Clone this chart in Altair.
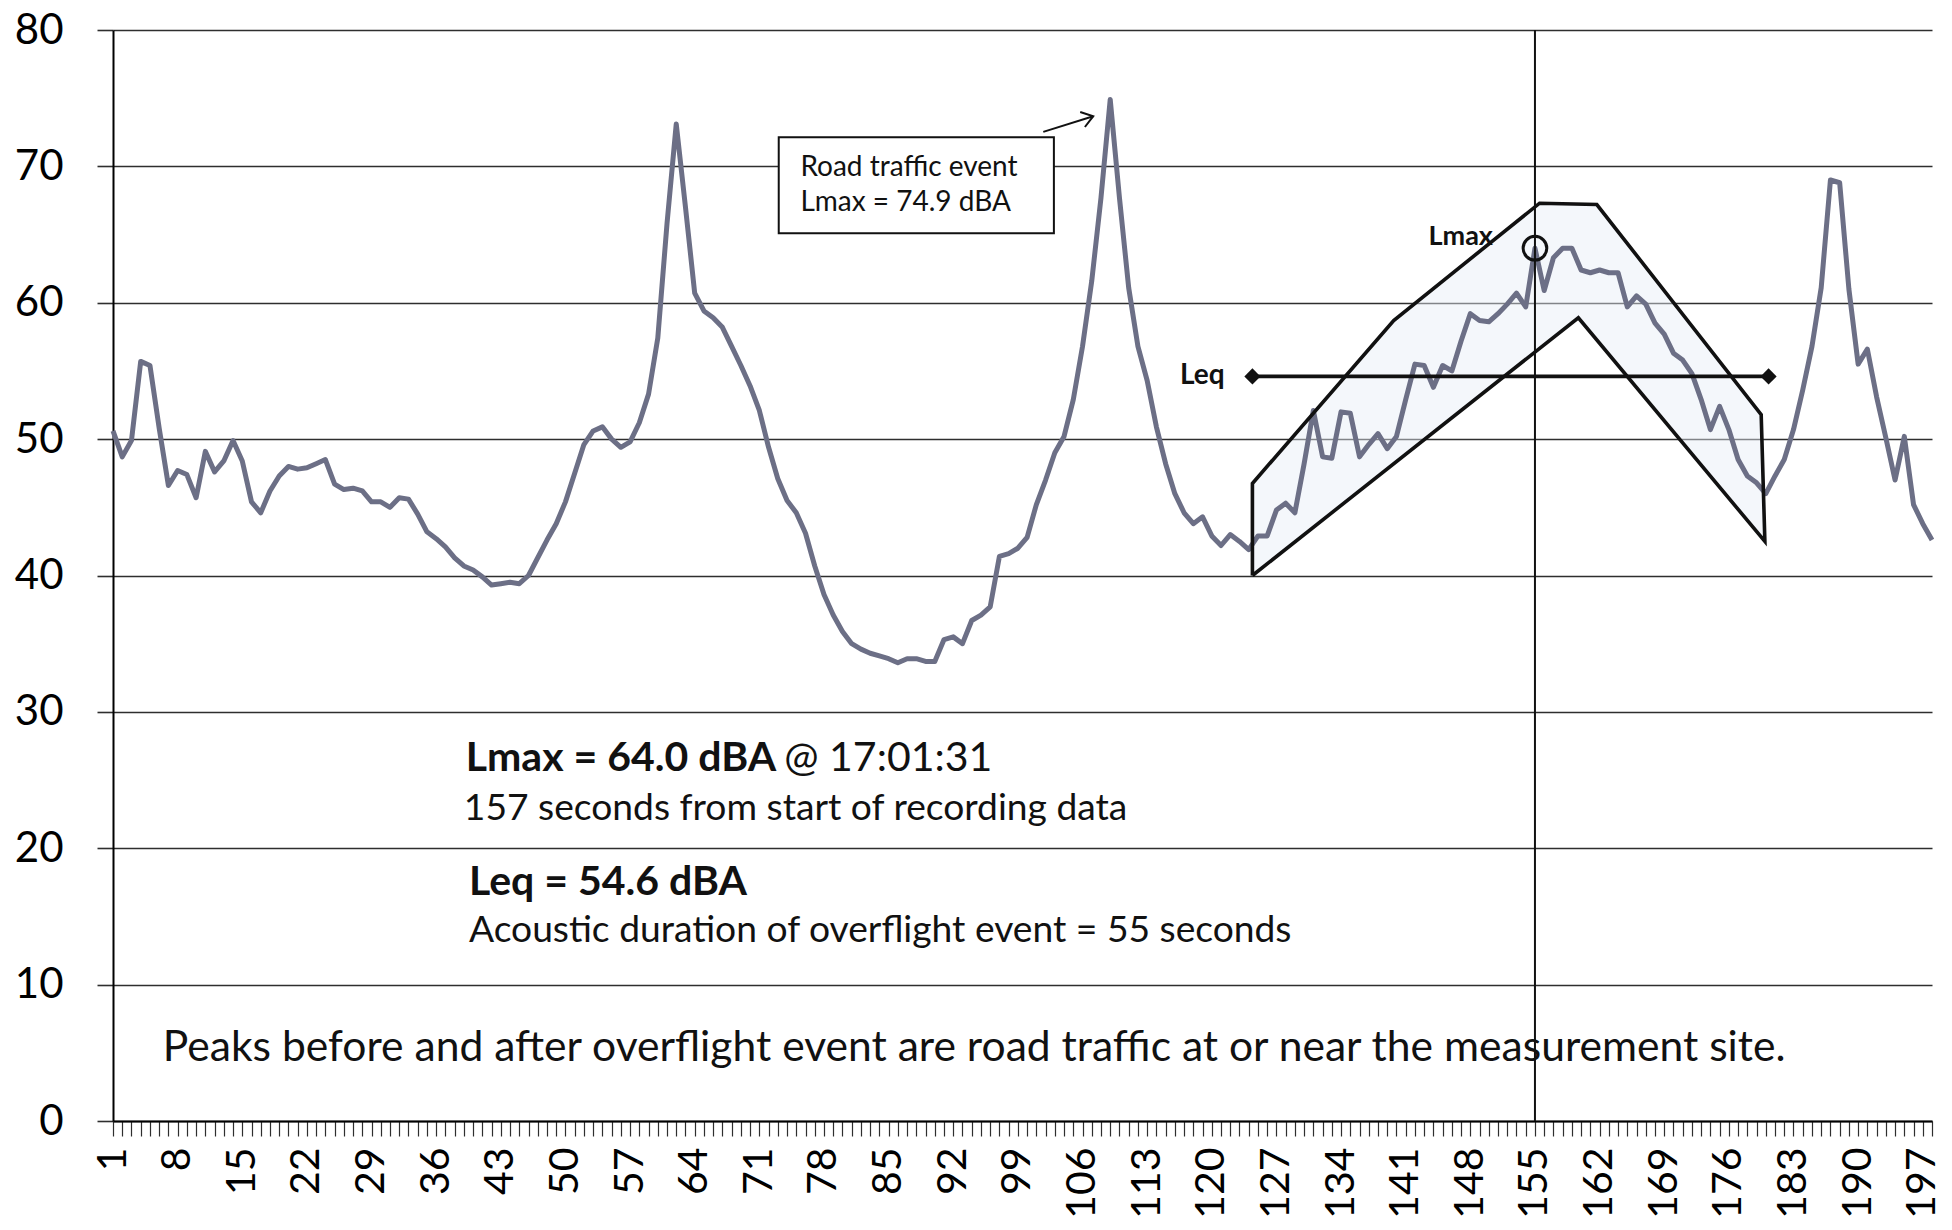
import altair as alt
import pandas as pd
import numpy as np

# ---------------- data ----------------
seconds = list(range(1, 199))
levels = [
    50.6, 48.7, 49.9, 55.7, 55.4, 50.8, 46.6, 47.7, 47.4, 45.7,
    49.1, 47.6, 48.4, 49.9, 48.4, 45.4, 44.6, 46.2, 47.3, 48.0,
    47.8, 47.9, 48.2, 48.5, 46.7, 46.3, 46.4, 46.2, 45.4, 45.4,
    45.0, 45.7, 45.6, 44.5, 43.2, 42.7, 42.1, 41.3, 40.7, 40.4,
    39.9, 39.3, 39.4, 39.5, 39.4, 40.0, 41.3, 42.6, 43.8, 45.4,
    47.5, 49.6, 50.6, 50.9, 50.0, 49.4, 49.8, 51.2, 53.3, 57.4,
    65.8, 73.1, 67.0, 60.7, 59.4, 58.9, 58.2, 56.8, 55.4, 53.9,
    52.1, 49.4, 47.1, 45.5, 44.6, 43.1, 40.7, 38.6, 37.1, 35.9,
    35.0, 34.6, 34.3, 34.1, 33.9, 33.6, 33.9, 33.9, 33.7, 33.7,
    35.3, 35.5, 35.0, 36.7, 37.1, 37.7, 41.4, 41.6, 42.0, 42.8,
    45.2, 47.0, 49.0, 50.2, 52.9, 56.8, 61.6, 67.7, 74.9, 67.7,
    61.1, 56.8, 54.3, 50.9, 48.2, 46.0, 44.6, 43.8, 44.3, 42.9,
    42.2, 43.0, 42.5, 41.9, 42.9, 42.9, 44.8, 45.3, 44.6, 48.2,
    52.1, 48.7, 48.6, 52.0, 51.9, 48.7, 49.6, 50.4, 49.3, 50.2,
    52.9, 55.5, 55.4, 53.8, 55.4, 55.0, 57.2, 59.2, 58.7, 58.6,
    59.2, 59.9, 60.7, 59.7, 64.0, 60.9, 63.3, 64.0, 64.0, 62.4,
    62.2, 62.4, 62.2, 62.2, 59.7, 60.5, 59.9, 58.5, 57.7, 56.3,
    55.8, 54.8, 52.9, 50.7, 52.4, 50.7, 48.5, 47.3, 46.8, 46.0,
    47.3, 48.5, 50.7, 53.6, 56.8, 61.1, 69.0, 68.8, 61.0, 55.5,
    56.6, 53.1, 50.1, 47.0, 50.2, 45.2, 43.8, 42.6,
]
label_step = 7
y_ticks = list(range(0, 81, 10))

lmax_time = 155
lmax_level = 64.0
leq_level = 54.6
leq_start, leq_end = 124.4, 180.3

# overflight envelope (outline vertices, in seconds / dBA)
env_x = [124.4, 124.4, 139.7, 155.5, 161.7, 179.5, 179.9, 159.7, 124.4]
env_y = [40.0, 46.75, 58.7, 67.3, 67.2, 51.8, 42.5, 58.9, 40.0]
env_top_x = [124.4, 139.7, 155.5, 161.7, 179.5, 179.9]
env_top_y = [46.75, 58.7, 67.3, 67.2, 51.8, 42.5]
env_bot_x = [124.4, 159.7, 179.9]
env_bot_y = [40.0, 58.9, 42.5]

# road traffic callout box + arrow
box_x = [73.1]; box_x2 = [102.9]; box_y = [72.14]; box_y2 = [65.1]
box_lines = ["Road traffic event", "Lmax = 74.9 dBA"]
box_line_x = [75.45, 75.45]
box_line_y = [69.3, 66.7]
arrow_x = [101.75, 107.16]
arrow_y = [72.53, 73.68]

bold_texts = ["Lmax = 64.0 dBA", "Leq = 54.6 dBA"]
bold_x = [39.2, 39.55]
bold_y = [25.66, 16.57]
at_text = ["@ 17:01:31"]; at_x = [73.7]; at_y = [25.66]
sub_texts = ["157 seconds from start of recording data",
             "Acoustic duration of overflight event = 55 seconds"]
sub_x = [39.0, 39.55]
sub_y = [22.1, 13.09]
note_text = ["Peaks before and after overflight event are road traffic at or near the measurement site."]
note_x = [6.4]; note_y = [4.4]

FONT = "Lato"
LINE_COLOR = "#6c6f86"
GRID = "#2e2e2e"

XS = alt.Scale(domain=[1, 198], nice=False, zero=False)
YS = alt.Scale(domain=[0, 80], nice=False, zero=False)

x_axis = alt.Axis(
    values=seconds, title=None, grid=False,
    labelExpr=f"(datum.value - 1) % {label_step} == 0 ? datum.label : ''",
    labelAngle=270, labelAlign="right", labelBaseline="middle",
    labelFont=FONT, labelFontSize=41, labelColor="black", labelPadding=11,
    labelOverlap=False, labelFlush=False,
    tickSize=15, tickColor=GRID, tickWidth=1.2,
    domainColor="black", domainWidth=2,
)
y_axis = alt.Axis(
    values=y_ticks, title=None, grid=True, gridColor=GRID, gridWidth=1.6,
    gridOpacity=1, labelFont=FONT, labelFontSize=42, labelColor="black",
    labelPadding=34, tickSize=16, tickColor=GRID, tickWidth=1.6,
    domainColor="black", domainWidth=2,
)


def X(f):
    return alt.X(f"{f}:Q", scale=XS, axis=x_axis)


def Y(f):
    return alt.Y(f"{f}:Q", scale=YS, axis=y_axis)


df = pd.DataFrame({"t": seconds, "L": levels})

xs_fill = sorted(set(env_top_x + env_bot_x))
fill_df = pd.DataFrame({
    "x": xs_fill,
    "top": np.interp(xs_fill, env_top_x, env_top_y),
    "bot": np.interp(xs_fill, env_bot_x, env_bot_y),
})
env_df = pd.DataFrame({"x": env_x, "y": env_y, "o": list(range(len(env_x)))})

main = alt.Chart(df).mark_line(
    color=LINE_COLOR, strokeWidth=5, strokeJoin="round"
).encode(x=X("t"), y=Y("L"))

env_fill = alt.Chart(fill_df).mark_area(color="#e6eef7", opacity=0.45).encode(
    x=X("x"), y=Y("top"), y2="bot"
)
env_line = alt.Chart(env_df).mark_line(
    color="#111111", strokeWidth=3.6, strokeJoin="miter"
).encode(x=X("x"), y=Y("y"), order="o:Q")

leq_df = pd.DataFrame({"x": [leq_start, leq_end], "y": [leq_level, leq_level]})
leq_line = alt.Chart(leq_df).mark_line(color="#111111", strokeWidth=3.6).encode(
    x=X("x"), y=Y("y")
)
leq_pts = alt.Chart(leq_df).mark_point(
    shape="diamond", filled=True, color="#111111", size=260, opacity=1
).encode(x=X("x"), y=Y("y"))

vr_df = pd.DataFrame({"x": [lmax_time], "y": [0], "y2": [80]})
vrule = alt.Chart(vr_df).mark_rule(color="#111111", strokeWidth=2).encode(
    x=X("x"), y=Y("y"), y2="y2"
)

circ_df = pd.DataFrame({"x": [lmax_time], "y": [lmax_level]})
circle = alt.Chart(circ_df).mark_point(
    shape="circle", filled=False, color="#111111", size=560, strokeWidth=3, opacity=1
).encode(x=X("x"), y=Y("y"))

box_df = pd.DataFrame({"x": box_x, "x2": box_x2, "y": box_y, "y2": box_y2})
box = alt.Chart(box_df).mark_rect(
    fill="white", stroke="#111111", strokeWidth=2
).encode(x=X("x"), x2="x2", y=Y("y"), y2="y2")

box_txt_df = pd.DataFrame({"x": box_line_x, "y": box_line_y, "s": box_lines})
box_txt = alt.Chart(box_txt_df).mark_text(
    font=FONT, fontSize=28, align="left", baseline="alphabetic", color="#111111"
).encode(x=X("x"), y=Y("y"), text="s:N")

arrow_df = pd.DataFrame({"x": arrow_x, "y": arrow_y})
arrow = alt.Chart(arrow_df).mark_line(color="#111111", strokeWidth=2).encode(
    x=X("x"), y=Y("y")
)
head_df = pd.DataFrame({"x": [arrow_x[-1]], "y": [arrow_y[-1]]})
arrow_head = alt.Chart(head_df).mark_point(
    shape="M -1 -0.7 L 0 0 L -1 0.7", filled=False, color="#111111",
    size=500, strokeWidth=2, angle=342.6, opacity=1
).encode(x=X("x"), y=Y("y"))

leq_lbl = alt.Chart(pd.DataFrame({"x": [121.4], "y": [leq_level], "s": ["Leq"]})).mark_text(
    font=FONT, fontSize=28, fontWeight="bold", align="right", baseline="middle", color="#111111"
).encode(x=X("x"), y=Y("y"), text="s:N")
lmax_lbl = alt.Chart(pd.DataFrame({"x": [150.45], "y": [64.2], "s": ["Lmax"]})).mark_text(
    font=FONT, fontSize=27, fontWeight="bold", align="right", baseline="alphabetic", color="#111111"
).encode(x=X("x"), y=Y("y"), text="s:N")

bold_t = alt.Chart(pd.DataFrame({"x": bold_x, "y": bold_y, "s": bold_texts})).mark_text(
    font=FONT, fontSize=41, fontWeight="bold", align="left", baseline="alphabetic", color="#111111"
).encode(x=X("x"), y=Y("y"), text="s:N")
at_t = alt.Chart(pd.DataFrame({"x": at_x, "y": at_y, "s": at_text})).mark_text(
    font=FONT, fontSize=41, align="left", baseline="alphabetic", color="#111111"
).encode(x=X("x"), y=Y("y"), text="s:N")
sub_t = alt.Chart(pd.DataFrame({"x": sub_x, "y": sub_y, "s": sub_texts})).mark_text(
    font=FONT, fontSize=37.2, align="left", baseline="alphabetic", color="#111111"
).encode(x=X("x"), y=Y("y"), text="s:N")
note_t = alt.Chart(pd.DataFrame({"x": note_x, "y": note_y, "s": note_text})).mark_text(
    font=FONT, fontSize=42.6, align="left", baseline="alphabetic", color="#111111"
).encode(x=X("x"), y=Y("y"), text="s:N")

chart = alt.layer(
    env_fill, main, env_line, leq_line, leq_pts, vrule, circle,
    box, box_txt, arrow, arrow_head, leq_lbl, lmax_lbl,
    bold_t, at_t, sub_t, note_t,
).properties(
    width=1819, height=1091,
    background="white",
    autosize=alt.AutoSizeParams(type="none"),
    padding={"left": 105, "top": 22, "right": 12, "bottom": 100},
).configure_view(stroke=None)

chart.save("out.html", embed_options={"renderer": "svg", "actions": False})
